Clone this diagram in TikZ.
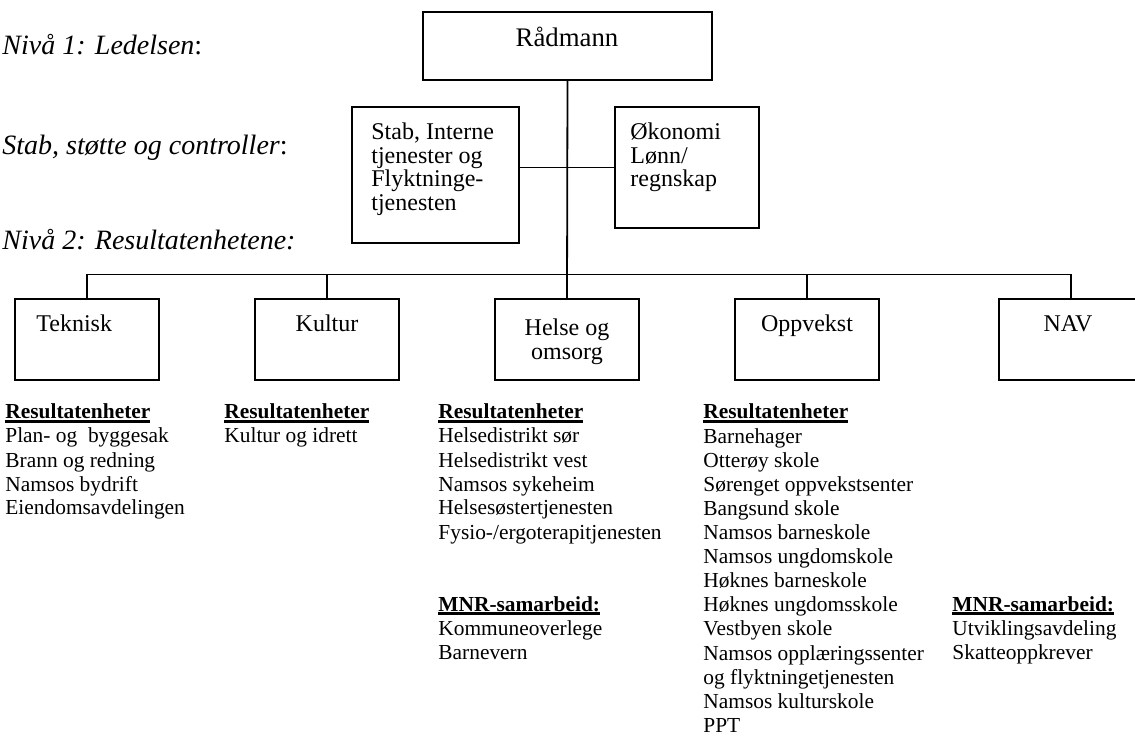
\documentclass[tikz,border=0pt]{standalone}
\usepackage{fontspec}
\setmainfont{Liberation Serif}
\newcommand\hdr[1]{\setbox0\hbox{\textbf{#1}}\rlap{\rule[-1.8pt]{\wd0}{1.1pt}}\box0}
\begin{document}
\begin{tikzpicture}[x=0.5pt,y=-0.5pt,
  box/.style={draw,line width=1pt,rectangle,inner sep=0pt,minimum width=72pt,minimum height=40.5pt},
  conn/.style={line width=0.9pt},
  btxt/.style={inner sep=0pt,font=\fontsize{12}{11}\selectfont},
  lst/.style={inner sep=0pt,anchor=base west,font=\fontsize{10.7}{12}\selectfont},
  lbl/.style={inner sep=0pt,anchor=base west,font=\fontsize{14}{15}\selectfont\itshape}]
\useasboundingbox (0,0) rectangle (1135,737);
\clip (0,0) rectangle (1135,737);
\fill[white] (0,0) rectangle (1135,737);

% left labels
\node[lbl] (l1) at (2,55) {Nivå 1: Ledelsen\upshape:};
\node[lbl] (l2) at (2,155) {Stab, støtte og controller\upshape:};
\node[lbl] (l3) at (2,250) {Nivå 2: Resultatenhetene:};

% boxes
\node[box,minimum width=144.5pt,minimum height=34pt] (rad) at (567.5,46) {};
\node[box,minimum width=83.5pt,minimum height=68pt] (stab) at (435.5,175) {};
\node[box,minimum width=72pt,minimum height=60.5pt] (oko) at (687,167.5) {};
\node[box] (tek) at (87,339.5) {};
\node[box] (kul) at (327,339.5) {};
\node[box] (hel) at (567,339.5) {};
\node[box] (opp) at (807,339.5) {};
\node[box] (nav) at (1071,339.5) {};

% connectors
\coordinate (bus) at (567,274.5);
\draw[conn] (rad.south) -- (hel.north);
\draw[conn] (stab.east |- oko.west) -- (oko.west);
\draw[conn] (tek.north) |- (bus) -| (nav.north);
\draw[conn] (kul.north) -- (kul.north |- bus);
\draw[conn] (opp.north) -- (opp.north |- bus);

% box texts
\node[inner sep=0pt,anchor=base,font=\fontsize{13.4}{14}\selectfont] (radt) at (567,46.7) {Rådmann};
\node[btxt,anchor=base west] (st1) at (371,140) {Stab, Interne};
\node[btxt,anchor=base west] (st2) at (371,163.5) {tjenester og};
\node[btxt,anchor=base west] (st3) at (371,187) {Flyktninge-};
\node[btxt,anchor=base west] (st4) at (371,210.5) {tjenesten};
\node[btxt,anchor=base west] (ok1) at (630,140) {Økonomi};
\node[btxt,anchor=base west] (ok2) at (630,163.5) {Lønn/};
\node[btxt,anchor=base west] (ok3) at (630,187) {regnskap};
\node[btxt,anchor=base west] (tekt) at (36,331.7) {Teknisk};
\node[btxt,anchor=base] (kult) at (327,331.7) {Kultur};
\node[btxt,anchor=base] (hel1) at (567,336) {Helse og};
\node[btxt,anchor=base] (hel2) at (567,359.5) {omsorg};
\node[btxt,anchor=base] (oppt) at (807,331.7) {Oppvekst};
\node[btxt,anchor=base] (navt) at (1068,331.7) {NAV};

% lists
\node[lst] (tekh) at (5,419) {\hdr{Resultatenheter}};
\foreach \t [count=\i] in {Plan- og~ byggesak,Brann og redning,Namsos bydrift,Eiendomsavdelingen}
  \node[lst] (tekl\i) at (5,{419+24*\i}) {\t};

\node[lst] (kulh) at (224,419) {\hdr{Resultatenheter}};
\node[lst] (kull1) at (224,443) {Kultur og idrett};

\node[lst] (helh) at (438,419) {\hdr{Resultatenheter}};
\foreach \t [count=\i] in {Helsedistrikt sør,Helsedistrikt vest,Namsos sykeheim,Helsesøstertjenesten,Fysio-/ergoterapitjenesten}
  \node[lst] (hell\i) at (438,{419+24*\i}) {\t};
\node[lst] (helm) at (438,611) {\hdr{MNR-samarbeid:}};
\node[lst] (helm1) at (438,635) {Kommuneoverlege};
\node[lst] (helm2) at (438,659) {Barnevern};

\node[lst] (opph) at (703,419) {\hdr{Resultatenheter}};
\foreach \t [count=\i] in {Barnehager,Otterøy skole,Sørenget oppvekstsenter,Bangsund skole,Namsos barneskole,Namsos ungdomskole,Høknes barneskole,Høknes ungdomsskole,Vestbyen skole,Namsos opplæringssenter,og flyktningetjenesten,Namsos kulturskole,PPT}
  \node[lst] (oppl\i) at (703,{419+24.1*\i}) {\t};

\node[lst] (navm) at (952,611) {\hdr{MNR-samarbeid:}};
\node[lst] (navm1) at (952,635) {Utviklingsavdeling};
\node[lst] (navm2) at (952,659) {Skatteoppkrever};
\end{tikzpicture}
\end{document}
